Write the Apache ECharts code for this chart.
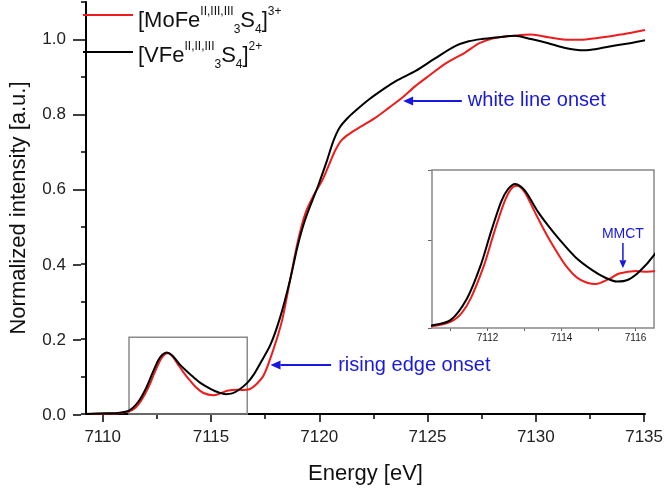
<!DOCTYPE html>
<html><head><meta charset="utf-8">
<script src="https://cdn.jsdelivr.net/npm/echarts@6/dist/echarts.min.js"></script>
<style>html,body{margin:0;padding:0;background:#fff}#c{width:666px;height:490px}</style>
</head><body><div id="c"></div>
<script>
// ---- data ----
const energyRed = [7109.0,7110.0,7110.5,7111.0,7111.3,7111.55,7111.91,7112.18,7112.46,7112.65,7112.8,7113.0,7113.28,7113.5,7113.74,7114.1,7114.47,7114.92,7115.29,7115.56,7116.02,7116.3,7116.6,7116.9,7117.27,7117.73,7118.12,7118.5,7118.85,7119.2,7119.6,7120.0,7120.35,7120.6,7120.9,7121.3,7121.8,7122.49,7123.1,7123.72,7124.33,7125.0,7125.7,7126.63,7127.3,7128.0,7128.94,7129.7,7130.5,7131.2,7132.0,7132.8,7133.54,7134.3,7135.0];
const intensityRed = [0.000,0.001,0.002,0.007,0.017,0.034,0.072,0.109,0.144,0.159,0.162,0.155,0.132,0.114,0.096,0.072,0.056,0.050,0.056,0.062,0.065,0.064,0.066,0.078,0.104,0.175,0.250,0.360,0.460,0.535,0.585,0.625,0.672,0.705,0.732,0.750,0.768,0.792,0.818,0.845,0.876,0.905,0.935,0.965,0.990,1.004,1.010,1.013,1.006,1.000,0.999,1.004,1.010,1.017,1.025];
const energyBlack = [7109.0,7110.0,7110.5,7111.0,7111.45,7111.82,7112.09,7112.37,7112.55,7112.75,7113.0,7113.37,7113.65,7113.92,7114.37,7114.83,7115.2,7115.5,7115.8,7116.1,7116.5,7116.8,7117.12,7117.58,7118.04,7118.5,7118.85,7119.2,7119.8,7120.2,7120.5,7120.8,7121.2,7121.6,7122.19,7122.8,7123.41,7124.33,7125.2,7126.17,7126.8,7127.4,7128.2,7128.94,7129.7,7130.5,7131.24,7132.16,7132.8,7133.54,7134.3,7135.0];
const intensityBlack = [0.000,0.002,0.003,0.009,0.034,0.072,0.109,0.144,0.158,0.164,0.157,0.132,0.116,0.102,0.081,0.066,0.057,0.053,0.055,0.064,0.083,0.105,0.137,0.185,0.260,0.360,0.450,0.520,0.610,0.675,0.728,0.765,0.792,0.813,0.841,0.866,0.889,0.916,0.948,0.982,0.995,1.001,1.006,1.010,1.001,0.990,0.978,0.971,0.975,0.983,0.990,0.998];
const xTickLabels = [7110,7115,7120,7125,7130,7135];
const yTickLabels = [0.0,0.2,0.4,0.6,0.8,1.0];
const insetXTickLabels = [7112,7114,7116];

const FONT = 'Liberation Sans, Arial, sans-serif';
const BLUE = '#1818e0';
const RED = '#ee1c1c';
const redPairs = energyRed.map((x,i)=>[x,intensityRed[i]]);
const blackPairs = energyBlack.map((x,i)=>[x,intensityBlack[i]]);

// main plot geometry
const G = {left:81, top:2, right:21, bottom:75, xMin:7109, xMax:7135, yMin:0, yMax:1.1};
const plotW = 666 - G.left - G.right, plotH = 490 - G.top - G.bottom;
const xFirst = xTickLabels[0], xLast = xTickLabels[xTickLabels.length-1];
const yFirst = yTickLabels[0], yLast = yTickLabels[yTickLabels.length-1];
// helper grids whose extents start exactly on tick values (so interval ticks align)
const hx = {left: G.left + (xFirst-G.xMin)/(G.xMax-G.xMin)*plotW, right: G.right + (G.xMax-xLast)/(G.xMax-G.xMin)*plotW};
const hy = {top: G.top + (G.yMax-yLast)/(G.yMax-G.yMin)*plotH, bottom: G.bottom + (yFirst-G.yMin)/(G.yMax-G.yMin)*plotH};
// inset geometry
const I = {left:432, top:170, width:222, height:158, xMin:7110.5, xMax:7116.5, yMin:0, yMax:0.18};
const ixFirst = 7111, ixLast = 7116;
const ihLeft = I.left + (ixFirst-I.xMin)/(I.xMax-I.xMin)*I.width;
const ihWidth = (ixLast-ixFirst)/(I.xMax-I.xMin)*I.width;

const chart = echarts.init(document.getElementById('c'), null, {renderer:'canvas'});
const lw = 2;
chart.setOption({
  animation:false,
  backgroundColor:'#fff',
  textStyle:{fontFamily:FONT},
  grid:[
    {left:G.left, top:G.top, right:G.right, bottom:G.bottom},
    {left:I.left, top:I.top, width:I.width, height:I.height, show:true, borderColor:'#888', borderWidth:1.5, backgroundColor:'#fff', z:5},
    {left:hx.left, right:hx.right, top:G.top, bottom:G.bottom},
    {left:G.left, right:G.right, top:hy.top, bottom:hy.bottom},
    {left:ihLeft, width:ihWidth, top:I.top, height:I.height, z:5}
  ],
  xAxis:[
    {type:'value', gridIndex:0, min:G.xMin, max:G.xMax, position:'bottom',
     axisLine:{show:true, onZero:false, lineStyle:{color:'#000', width:2}},
     axisTick:{show:false}, axisLabel:{show:false}, splitLine:{show:false},
     name:'Energy [eV]', nameLocation:'middle', nameGap:49,
     nameTextStyle:{fontSize:22, color:'#111', fontFamily:FONT}},
    {type:'value', gridIndex:1, min:I.xMin, max:I.xMax, axisLine:{show:false}, axisTick:{show:false}, axisLabel:{show:false}, splitLine:{show:false}},
    {type:'value', gridIndex:2, min:xFirst, max:xLast, interval:5, position:'bottom',
     axisLine:{show:false},
     axisTick:{show:true, length:7, lineStyle:{color:'#000', width:1.5}},
     minorTick:{show:true, splitNumber:2, length:4, lineStyle:{color:'#000', width:1.5}},
     axisLabel:{fontSize:17, color:'#222', margin:14, fontFamily:FONT, formatter:v=>String(v), showMinLabel:true, showMaxLabel:true},
     splitLine:{show:false}},
    {type:'value', gridIndex:3, min:G.xMin, max:G.xMax, show:false},
    {type:'value', gridIndex:4, min:ixFirst, max:ixLast, interval:1, position:'bottom',
     axisLine:{show:false},
     axisTick:{show:true, length:3, lineStyle:{color:'#666', width:1}},
     axisLabel:{fontSize:10, color:'#222', margin:5, fontFamily:FONT,
       formatter:v=>insetXTickLabels.indexOf(v)>=0?String(v):''},
     splitLine:{show:false}}
  ],
  yAxis:[
    {type:'value', gridIndex:0, min:G.yMin, max:G.yMax, interval:0.1,
     axisLine:{show:true, onZero:false, lineStyle:{color:'#000', width:2}},
     axisTick:{show:true, length:5, lineStyle:{color:'#000', width:1.5}},
     axisLabel:{show:false}, splitLine:{show:false},
     name:'Normalized intensity [a.u.]', nameLocation:'middle', nameGap:56,
     nameTextStyle:{fontSize:22, color:'#111', fontFamily:FONT}},
    {type:'value', gridIndex:1, min:I.yMin, max:I.yMax, interval:0.1,
     axisLine:{show:false},
     axisTick:{show:true, length:4, lineStyle:{color:'#666', width:1}},
     axisLabel:{show:false}, splitLine:{show:false}},
    {type:'value', gridIndex:2, min:G.yMin, max:G.yMax, show:false},
    {type:'value', gridIndex:3, min:yFirst, max:yLast, interval:0.2,
     axisLine:{show:false},
     axisTick:{show:true, length:8, lineStyle:{color:'#000', width:1.5}},
     axisLabel:{fontSize:17, color:'#222', margin:15, fontFamily:FONT, formatter:v=>v.toFixed(1)},
     splitLine:{show:false}},
    {type:'value', gridIndex:4, min:0, max:1, show:false}
  ],
  series:[
    {name:'red', type:'line', xAxisIndex:0, yAxisIndex:0, data:redPairs, showSymbol:false, smooth:0.3,
     lineStyle:{color:RED, width:lw}, z:3,
     markArea:{silent:true, itemStyle:{color:'rgba(0,0,0,0)', borderColor:'#8a8a8a', borderWidth:1.5},
       data:[[{xAxis:7111, yAxis:0},{xAxis:7116.5, yAxis:0.205}]]}},
    {name:'black', type:'line', xAxisIndex:0, yAxisIndex:0, data:blackPairs, showSymbol:false, smooth:0.3,
     lineStyle:{color:'#000', width:lw}, z:4},
    {name:'red-inset', type:'line', xAxisIndex:1, yAxisIndex:1, data:redPairs, showSymbol:false, smooth:0.3, clip:true,
     lineStyle:{color:RED, width:lw}, z:6},
    {name:'black-inset', type:'line', xAxisIndex:1, yAxisIndex:1, data:blackPairs, showSymbol:false, smooth:0.3, clip:true,
     lineStyle:{color:'#000', width:lw}, z:7}
  ]
});

function px(grid, x, y){ return chart.convertToPixel({gridIndex:grid}, [x,y]); }
function hArrow(tail, tip){
  const dir = tip[0] < tail[0] ? -1 : 1;
  const base = tip[0] - dir*10;
  return [
    {type:'line', shape:{x1:tail[0], y1:tail[1], x2:base, y2:tip[1]}, style:{stroke:BLUE, lineWidth:2}, z:20},
    {type:'polygon', shape:{points:[[tip[0],tip[1]],[base,tip[1]-4.5],[base,tip[1]+4.5]]}, style:{fill:BLUE}, z:20}
  ];
}
function vArrow(tail, tip){
  const base = tip[1] - 8;
  return [
    {type:'line', shape:{x1:tail[0], y1:tail[1], x2:tip[0], y2:base}, style:{stroke:BLUE, lineWidth:1.5}, z:20},
    {type:'polygon', shape:{points:[[tip[0],tip[1]],[tip[0]-3.5,base],[tip[0]+3.5,base]]}, style:{fill:BLUE}, z:20}
  ];
}
const g = [];
const wlTail = px(0, 7126.48, 0.836), wlTip = px(0, 7123.75, 0.836);
g.push(...hArrow(wlTail, wlTip));
const wlText = px(0, 7126.76, 0.836);
g.push({type:'text', x:wlText[0], y:wlText[1], z:20, style:{text:'white line onset', fill:BLUE, font:'20px '+FONT, textVerticalAlign:'middle', textAlign:'left'}});
const reTail = px(0, 7120.4, 0.1305), reTip = px(0, 7117.58, 0.1305);
g.push(...hArrow(reTail, reTip));
const reText = px(0, 7120.73, 0.1305);
g.push({type:'text', x:reText[0], y:reText[1], z:20, style:{text:'rising edge onset', fill:BLUE, font:'20px '+FONT, textVerticalAlign:'middle', textAlign:'left'}});
const mTail = px(1, 7115.66, 0.0968), mTip = px(1, 7115.66, 0.068);
g.push(...vArrow(mTail, mTip));
const mText = px(1, 7115.66, 0.107);
g.push({type:'text', x:mText[0], y:mText[1], z:20, style:{text:'MMCT', fill:BLUE, font:'14px '+FONT, textVerticalAlign:'middle', textAlign:'center'}});
const rich = {
  m:{fontSize:22, fontFamily:FONT, color:'#111', lineHeight:30},
  sup:{fontSize:12, fontFamily:FONT, color:'#111', verticalAlign:'top'},
  sub:{fontSize:12, fontFamily:FONT, color:'#111', verticalAlign:'bottom'}
};
const legendRows = [
  {color:RED, y:15, ty:21, text:'{m|[MoFe}{sup|II,III,III}{sub|3}{m|S}{sub|4}{m|]}{sup|3+}'},
  {color:'#000', y:52, ty:56, text:'{m|[VFe}{sup|II,II,III}{sub|3}{m|S}{sub|4}{m|]}{sup|2+}'}
];
legendRows.forEach(r=>{
  g.push({type:'line', shape:{x1:83, y1:r.y, x2:133, y2:r.y}, style:{stroke:r.color, lineWidth:2}, z:20});
  g.push({type:'text', x:138, y:r.ty, z:20, style:{text:r.text, rich:rich, fill:'#111', textVerticalAlign:'middle', textAlign:'left'}});
});
chart.setOption({graphic:g});
</script>
</body></html>
